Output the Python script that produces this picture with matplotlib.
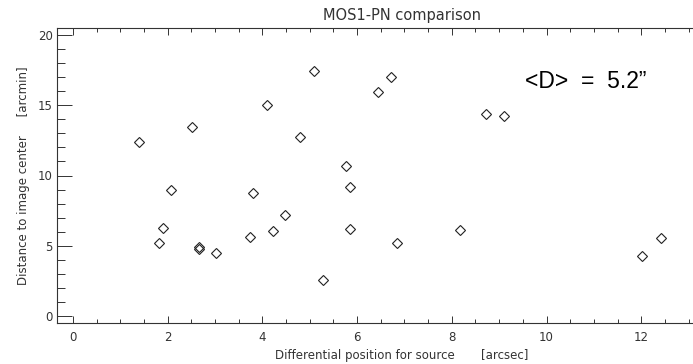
import matplotlib
matplotlib.use("Agg")
import matplotlib.pyplot as plt
from matplotlib.ticker import MultipleLocator, FixedLocator

# Data
diff_pos = [1.39, 1.81, 1.89, 2.06, 2.52, 2.65, 2.67, 3.02, 3.74, 3.81,
            4.09, 4.23, 4.48, 4.79, 5.08, 5.27, 5.77, 5.85, 5.85, 6.43,
            6.71, 6.84, 8.17, 8.72, 9.10, 12.02, 12.41]
dist_center = [12.36, 5.18, 6.24, 8.94, 13.45, 4.88, 4.78, 4.47, 5.60, 8.77,
               15.03, 6.02, 7.18, 12.74, 17.47, 2.57, 10.66, 9.17, 6.17, 15.93,
               17.04, 5.18, 6.12, 14.40, 14.21, 4.28, 5.55]

x_ticks = [0, 2, 4, 6, 8, 10, 12]
y_ticks = [0, 5, 10, 15, 20]

title = "MOS1-PN comparison"
xlabel = "Differential position for source       [arcsec]"
ylabel = "Distance to image center     [arcmin]"
annot = "<D>  =  5.2\u201d"

W, H = 693, 364
fig = plt.figure(figsize=(W / 100, H / 100), dpi=100)
ax = fig.add_axes([57 / W, (H - 323) / H, 690 / W, 295 / H])

txt_color = "#333333"
ax.plot(diff_pos, dist_center, linestyle="none", marker="D", ms=5.4,
        mfc="none", mec="#222222", mew=0.8)

ax.set_xlim(-0.34, 14.235)
ax.set_ylim(-0.5, 20.5)
ax.xaxis.set_major_locator(FixedLocator(x_ticks))
ax.xaxis.set_minor_locator(MultipleLocator(0.5))
ax.yaxis.set_major_locator(FixedLocator(y_ticks))
ax.yaxis.set_minor_locator(MultipleLocator(1))

ax.tick_params(axis="x", which="major", direction="in", length=5.0, width=0.7,
               top=True, bottom=True, colors="#333333", labelsize=8.5, pad=6)
ax.tick_params(axis="x", which="minor", direction="in", length=2.8, width=0.7,
               top=True, bottom=True, colors="#333333")
ax.tick_params(axis="y", which="major", direction="in", length=11, width=0.7,
               left=True, right=True, colors="#333333", labelsize=8.5, pad=3)
ax.tick_params(axis="y", which="minor", direction="in", length=5.5, width=0.7,
               left=True, right=True, colors="#333333")
for s in ax.spines.values():
    s.set_linewidth(0.8)
    s.set_color("#333333")

ax.set_title(title, fontsize=10.5, color=txt_color, pad=6)
ax.set_xlabel(xlabel, fontsize=8.5, color=txt_color, labelpad=3)
ax.set_ylabel(ylabel, fontsize=8.5, color=txt_color, labelpad=6)

ax.text(9.55, 16.2, annot, fontsize=16.5, family="Liberation Sans",
        color="black", va="baseline", ha="left")

fig.savefig("out.png", dpi=100)
